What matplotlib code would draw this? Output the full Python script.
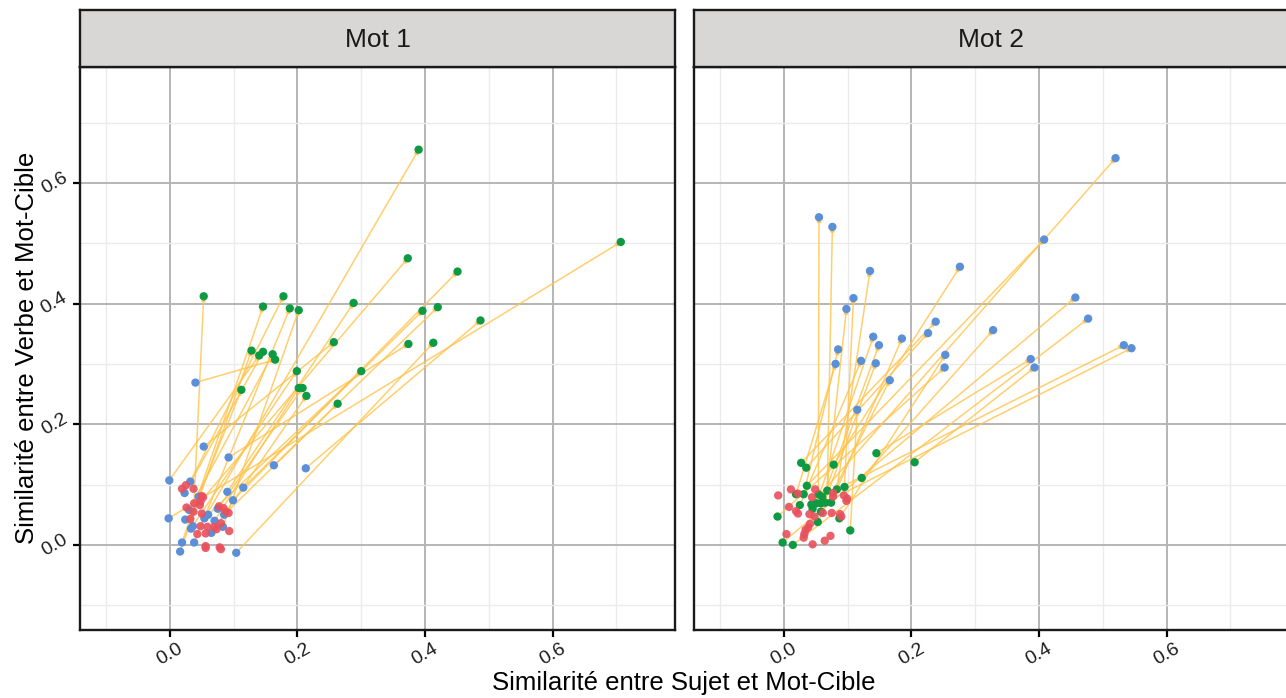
import matplotlib
matplotlib.use('Agg')
import matplotlib.pyplot as plt

plt.rcParams['font.family'] = ['Liberation Sans', 'DejaVu Sans']

# Mot 1 : flèches du point bleu vers le point vert
mot1_x_start = [0.054, -0.002, 0.024, 0.099, 0.036, 0.032, 0.019, 0.038, 0.083, 0.090,
                0.115, 0.163, 0.213, 0.092, 0.104, 0.053, 0.016, -0.001, 0.023, 0.030,
                0.040, 0.033, 0.060, 0.045, 0.070, 0.075, 0.065, 0.085]
mot1_y_start = [0.044, 0.044, 0.042, 0.074, 0.031, 0.105, 0.004, 0.004, 0.030, 0.088,
                0.095, 0.132, 0.127, 0.145, -0.013, 0.163, -0.011, 0.107, 0.086, 0.058,
                0.269, 0.027, 0.050, 0.080, 0.040, 0.060, 0.020, 0.050]
mot1_x_end = [0.390, 0.707, 0.373, 0.451, 0.053, 0.178, 0.146, 0.188, 0.202, 0.288,
              0.396, 0.420, 0.487, 0.374, 0.413, 0.257, 0.128, 0.140, 0.146, 0.161,
              0.165, 0.199, 0.300, 0.112, 0.202, 0.208, 0.214, 0.263]
mot1_y_end = [0.655, 0.502, 0.475, 0.453, 0.412, 0.412, 0.395, 0.392, 0.389, 0.401,
              0.388, 0.394, 0.372, 0.333, 0.335, 0.336, 0.322, 0.314, 0.320, 0.316,
              0.307, 0.288, 0.288, 0.257, 0.260, 0.260, 0.247, 0.234]
mot1_x_red = [0.019, 0.025, 0.037, 0.052, 0.048, 0.038, 0.047, 0.077, 0.084, 0.088,
              0.092, 0.026, 0.037, 0.050, 0.032, 0.048, 0.059, 0.070, 0.080, 0.073,
              0.093, 0.043, 0.056, 0.056, 0.056, 0.078, 0.080, 0.050]
mot1_y_red = [0.093, 0.099, 0.093, 0.079, 0.072, 0.069, 0.066, 0.064, 0.061, 0.055,
              0.053, 0.062, 0.055, 0.052, 0.043, 0.031, 0.030, 0.030, 0.036, 0.026,
              0.023, 0.018, 0.019, -0.002, -0.005, -0.004, -0.007, 0.081]

# Mot 2 : flèches du point vert vers le point bleu
mot2_x_start = [0.054, 0.068, 0.036, 0.043, 0.083, 0.078, 0.095, 0.065, 0.027, 0.035,
                0.122, 0.051, 0.058, 0.074, 0.031, 0.019, 0.025, 0.058, 0.087, -0.010,
                0.053, 0.104, 0.145, 0.205, -0.002, 0.014, 0.060, 0.045]
mot2_y_start = [0.084, 0.090, 0.098, 0.067, 0.092, 0.133, 0.096, 0.070, 0.136, 0.128,
                0.111, 0.069, 0.069, 0.070, 0.084, 0.084, 0.066, 0.055, 0.044, 0.047,
                0.038, 0.024, 0.152, 0.137, 0.004, 0.000, 0.080, 0.060]
mot2_x_end = [0.055, 0.076, 0.408, 0.520, 0.135, 0.276, 0.109, 0.098, 0.238, 0.226,
              0.328, 0.140, 0.149, 0.185, 0.085, 0.081, 0.121, 0.144, 0.253, 0.252,
              0.166, 0.115, 0.387, 0.393, 0.457, 0.477, 0.533, 0.545]
mot2_y_end = [0.543, 0.527, 0.506, 0.641, 0.454, 0.461, 0.409, 0.391, 0.370, 0.351,
              0.356, 0.345, 0.331, 0.342, 0.324, 0.300, 0.305, 0.301, 0.315, 0.294,
              0.273, 0.224, 0.308, 0.294, 0.410, 0.375, 0.331, 0.326]
mot2_x_red = [-0.009, 0.011, 0.022, 0.049, 0.044, 0.077, 0.077, 0.094, 0.099, 0.098,
              0.008, 0.019, 0.022, 0.040, 0.048, 0.061, 0.075, 0.088, 0.090, 0.041,
              0.038, 0.034, 0.032, 0.031, 0.004, 0.073, 0.064, 0.045]
mot2_y_red = [0.082, 0.092, 0.085, 0.092, 0.079, 0.086, 0.080, 0.082, 0.077, 0.073,
              0.063, 0.056, 0.052, 0.051, 0.047, 0.053, 0.053, 0.051, 0.047, 0.035,
              0.029, 0.025, 0.018, 0.012, 0.018, 0.015, 0.007, 0.001]

panels = ['Mot 1', 'Mot 2']
ticks = [0.0, 0.2, 0.4, 0.6]
tick_labels = ['0.0', '0.2', '0.4', '0.6']
minor = [-0.1, 0.1, 0.3, 0.5, 0.7]
lims = (-0.141, 0.792)

RED = '#E8505C'
BLUE = '#5B8FD8'
GREEN = '#0E9A43'
LINE = '#FFC34A'

fig = plt.figure(figsize=(12.86, 6.98), dpi=100)

data = [
    (mot1_x_start, mot1_y_start, mot1_x_end, mot1_y_end, mot1_x_red, mot1_y_red, BLUE, GREEN),
    (mot2_x_start, mot2_y_start, mot2_x_end, mot2_y_end, mot2_x_red, mot2_y_red, GREEN, BLUE),
]
lefts = [80 / 1286, 694 / 1286]
w = 595 / 1286
b = 68 / 698
h = 563 / 698

for i, (xs, ys, xe, ye, xr, yr, c_start, c_end) in enumerate(data):
    ax = fig.add_axes([lefts[i], b, w, h])
    ax.set_xlim(lims)
    ax.set_ylim(lims)
    ax.set_xticks(ticks)
    ax.set_yticks(ticks)
    ax.set_xticks(minor, minor=True)
    ax.set_yticks(minor, minor=True)
    ax.grid(True, which='major', color='#B8B4B4', lw=1.4)
    ax.grid(True, which='minor', color='#EBEBEB', lw=1.0)
    ax.set_axisbelow(True)
    ax.tick_params(which='minor', length=0)
    ax.tick_params(which='major', length=5, width=1.6, color='black', pad=2)
    ax.set_xticklabels(tick_labels, rotation=30, ha='center', fontsize=14,
                       color='#1e1e1e')
    if i == 0:
        ax.set_yticklabels(tick_labels, rotation=30, va='center', fontsize=14,
                           color='#1e1e1e')
    else:
        ax.tick_params(axis='y', length=0, labelleft=False)
    for s in ax.spines.values():
        s.set_linewidth(1.7)
        s.set_color('#1a1a1a')

    for k in range(len(xs)):
        ax.annotate('', xy=(xe[k], ye[k]), xytext=(xs[k], ys[k]),
                    arrowprops=dict(arrowstyle='-|>', color=LINE, alpha=0.8, lw=1.1,
                                    mutation_scale=6, shrinkA=0, shrinkB=0), zorder=2)
    ax.scatter(xs, ys, s=36, color=c_start, edgecolors='none', zorder=3)
    ax.scatter(xr, yr, s=36, color=RED, edgecolors='none', zorder=4, alpha=0.9)
    ax.scatter(xe, ye, s=36, color=c_end, edgecolors='none', zorder=3)

    strip = fig.add_axes([lefts[i], 631 / 698, w, 57 / 698])
    strip.set_facecolor('#D9D7D6')
    strip.set_xticks([])
    strip.set_yticks([])
    for s in strip.spines.values():
        s.set_linewidth(1.7)
        s.set_color('#1a1a1a')
    strip.text(0.5, 0.47, panels[i], ha='center', va='center', fontsize=19,
               transform=strip.transAxes, color='#1a1a1a')

fig.text(684 / 1286, 0.021, 'Similarité entre Sujet et Mot-Cible', ha='center',
         va='center', fontsize=18.5)
fig.text(0.021, (698 - 348) / 698, 'Similarité entre Verbe et Mot-Cible', ha='center',
         va='center', rotation=90, fontsize=18.5)

fig.savefig('out.png', dpi=100)
